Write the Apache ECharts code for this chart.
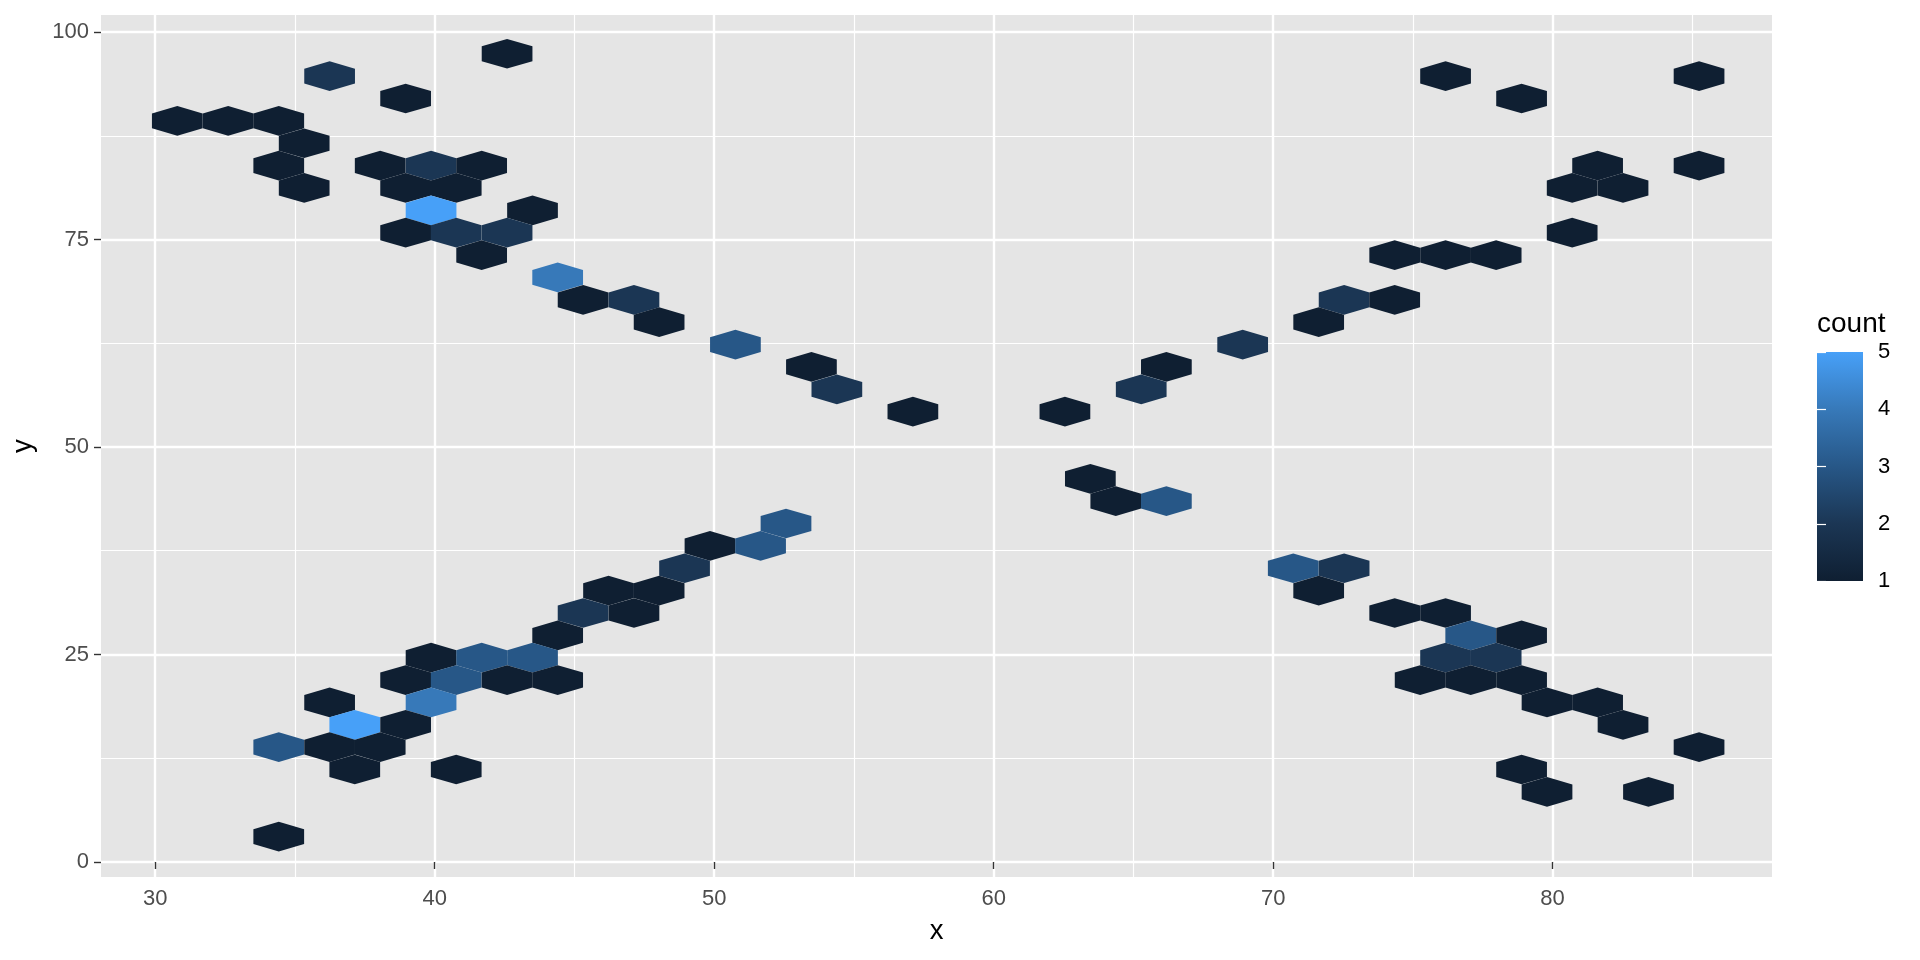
<!DOCTYPE html>
<html>
<head>
<meta charset="utf-8">
<script src="https://cdn.jsdelivr.net/npm/echarts@6/dist/echarts.min.js"></script>
<style>
html, body { margin: 0; padding: 0; background: #ffffff; }
#chart { width: 1920px; height: 960px; }
</style>
</head>
<body>
<div id="chart"></div>
<script>
// ---- Data (hexagon centres and their counts) ----
const hexX = [
  42.59, 36.24, 76.17, 85.24, 38.96, 78.89, 30.79, 32.61, 34.42, 35.33,
  34.42, 38.05, 39.87, 41.68, 81.61, 85.24, 35.33, 38.96, 40.77, 80.70,
  82.52, 39.87, 43.50, 38.96, 40.77, 42.59, 80.70, 41.68, 74.35, 76.17,
  77.98, 44.40, 45.31, 47.13, 72.54, 74.35, 48.03, 71.63, 50.76, 68.91,
  53.48, 66.18, 54.39, 65.28, 57.11, 62.55, 63.46, 64.37, 66.18, 52.57,
  49.85, 51.66, 48.94, 70.72, 72.54, 46.22, 48.03, 71.63, 45.31, 47.13,
  74.35, 76.17, 44.40, 77.07, 78.89, 39.87, 41.68, 43.50, 76.17, 77.98,
  38.96, 40.77, 42.59, 44.40, 75.26, 77.07, 78.89, 36.24, 39.87, 79.80,
  81.61, 37.14, 38.96, 82.52, 34.42, 36.24, 38.05, 85.24, 37.14, 40.77,
  78.89, 79.80, 83.43, 34.42
];
const hexY = [
  97.38, 94.68, 94.68, 94.68, 91.99, 91.99, 89.29, 89.29, 89.29, 86.60,
  83.90, 83.90, 83.90, 83.90, 83.90, 83.90, 81.21, 81.21, 81.21, 81.21,
  81.21, 78.51, 78.51, 75.82, 75.82, 75.82, 75.82, 73.12, 73.12, 73.12,
  73.12, 70.43, 67.73, 67.73, 67.73, 67.73, 65.04, 65.04, 62.34, 62.34,
  59.65, 59.65, 56.95, 56.95, 54.26, 54.26, 46.17, 43.48, 43.48, 40.78,
  38.09, 38.09, 35.39, 35.39, 35.39, 32.70, 32.70, 32.70, 30.00, 30.00,
  30.00, 30.00, 27.31, 27.31, 27.31, 24.61, 24.61, 24.61, 24.61, 24.61,
  21.92, 21.92, 21.92, 21.92, 21.92, 21.92, 21.92, 19.22, 19.22, 19.22,
  19.22, 16.53, 16.53, 16.53, 13.83, 13.83, 13.83, 13.83, 11.14, 11.14,
  11.14, 8.44, 8.44, 3.05
];
const hexCount = [
  1, 2, 1, 1, 1, 1, 1, 1, 1, 1,
  1, 1, 2, 1, 1, 1, 1, 1, 1, 1,
  1, 5, 1, 1, 2, 2, 1, 1, 1, 1,
  1, 4, 1, 2, 2, 1, 1, 1, 3, 2,
  1, 1, 2, 2, 1, 1, 1, 1, 3, 3,
  1, 3, 2, 3, 2, 1, 1, 1, 2, 1,
  1, 1, 1, 3, 1, 1, 3, 3, 2, 2,
  1, 3, 1, 1, 1, 1, 1, 1, 4, 1,
  1, 5, 1, 1, 3, 1, 1, 1, 1, 1,
  1, 1, 1, 1
];

// ---- Axis ticks and legend ----
const xMajorTicks = [30, 40, 50, 60, 70, 80];
const xMinorTicks = [35, 45, 55, 65, 75, 85];
const yMajorTicks = [0, 25, 50, 75, 100];
const yMinorTicks = [12.5, 37.5, 62.5, 87.5];
const countTicks = [1, 2, 3, 4, 5];
const countColors = ['#0F1F32', '#1B3654', '#275787', '#3779B9', '#47A0F8'];

// ---- Styling constants ----
const FONT = "'Liberation Sans', Arial, Helvetica, sans-serif";
const HEX_HALF_W = 0.9075;   // half of the bin width in x units
const HEX_QUARTER_H = 0.8947; // quarter of the hexagon height in y units
const HEX_SHAPE = [[1, 1], [1, -1], [0, -2], [-1, -1], [-1, 1], [0, 2]];

const hexData = hexX.map((x, i) => [x, hexY[i], hexCount[i]]);

const chart = echarts.init(document.getElementById('chart'), null, { renderer: 'canvas' });

const option = {
  backgroundColor: '#ffffff',
  animation: false,
  textStyle: { fontFamily: FONT },
  title: {
    text: 'count',
    left: 1817,
    top: 310,
    padding: 0,
    textStyle: { fontSize: 28, fontWeight: 'normal', color: '#000000', fontFamily: FONT }
  },
  grid: [
    { left: 101, top: 15, width: 1671, height: 862, show: true, backgroundColor: '#E5E5E5', borderWidth: 0 },
    { left: 1817, top: 352, width: 46, height: 229, show: false }
  ],
  visualMap: {
    type: 'continuous',
    show: false,
    seriesIndex: 0,
    dimension: 2,
    min: countTicks[0],
    max: countTicks[countTicks.length - 1],
    inRange: { color: countColors }
  },
  xAxis: [
    {
      type: 'value', gridIndex: 0, min: 28.06, max: 87.85,
      axisLine: { show: false },
      axisTick: { show: true, length: 7, lineStyle: { color: '#333333', width: 1.4 }, customValues: xMajorTicks },
      axisLabel: { customValues: xMajorTicks, color: '#4D4D4D', fontSize: 22, margin: 11, fontFamily: FONT },
      splitLine: { show: true, lineStyle: { color: '#ffffff', width: 2.4 } },
      name: 'x', nameLocation: 'middle', nameGap: 40,
      nameTextStyle: { fontSize: 27.5, color: '#000000', fontFamily: FONT }
    },
    {
      type: 'value', gridIndex: 0, min: 28.06, max: 87.85, position: 'bottom',
      axisLine: { show: false },
      axisTick: { show: false, customValues: xMinorTicks },
      axisLabel: { show: false, customValues: xMinorTicks },
      splitLine: { show: true, lineStyle: { color: '#ffffff', width: 1.2 } }
    },
    { type: 'value', gridIndex: 1, min: 0, max: 1, show: false }
  ],
  yAxis: [
    {
      type: 'value', gridIndex: 0, min: -1.81, max: 102.05,
      axisLine: { show: false },
      axisTick: { show: true, length: 7, lineStyle: { color: '#333333', width: 1.4 }, customValues: yMajorTicks },
      axisLabel: { customValues: yMajorTicks, color: '#4D4D4D', fontSize: 22, margin: 12, fontFamily: FONT },
      splitLine: { show: true, lineStyle: { color: '#ffffff', width: 2.4 } },
      name: 'y', nameLocation: 'middle', nameGap: 64,
      nameTextStyle: { fontSize: 27.5, color: '#000000', fontFamily: FONT }
    },
    {
      type: 'value', gridIndex: 0, min: -1.81, max: 102.05, position: 'left',
      axisLine: { show: false },
      axisTick: { show: false, customValues: yMinorTicks },
      axisLabel: { show: false, customValues: yMinorTicks },
      splitLine: { show: true, lineStyle: { color: '#ffffff', width: 1.2 } }
    },
    {
      type: 'value', gridIndex: 1, min: 1, max: 5, interval: 1, position: 'right', z: 10,
      axisLine: { show: false },
      axisTick: { show: true, inside: true, length: 9, lineStyle: { color: '#ffffff', width: 1.2 } },
      axisLabel: { color: '#000000', fontSize: 22, margin: 15, fontFamily: FONT },
      splitLine: { show: false }
    },
    {
      type: 'value', gridIndex: 1, min: 1, max: 5, interval: 1, position: 'left', z: 10,
      axisLine: { show: false },
      axisTick: { show: true, inside: true, length: 9, lineStyle: { color: '#ffffff', width: 1.2 } },
      axisLabel: { show: false },
      splitLine: { show: false }
    }
  ],
  series: [
    {
      type: 'custom',
      xAxisIndex: 0,
      yAxisIndex: 0,
      data: hexData,
      encode: { x: 0, y: 1 },
      renderItem: function (params, api) {
        const cx = api.value(0), cy = api.value(1);
        const pts = HEX_SHAPE.map(function (p) {
          return api.coord([cx + p[0] * HEX_HALF_W, cy + p[1] * HEX_QUARTER_H]);
        });
        return {
          type: 'polygon',
          shape: { points: pts },
          style: { fill: api.visual('color'), stroke: null }
        };
      }
    },
    {
      type: 'custom',
      xAxisIndex: 2,
      yAxisIndex: 2,
      data: [[0, countTicks[0], 1, countTicks[countTicks.length - 1]]],
      renderItem: function (params, api) {
        const p0 = api.coord([api.value(0), api.value(3)]);
        const p1 = api.coord([api.value(2), api.value(1)]);
        const stops = countColors.slice().reverse().map(function (c, i, arr) {
          return { offset: i / (arr.length - 1), color: c };
        });
        return {
          type: 'rect',
          shape: { x: p0[0], y: p0[1], width: p1[0] - p0[0], height: p1[1] - p0[1] },
          style: {
            fill: { type: 'linear', x: 0, y: 0, x2: 0, y2: 1, colorStops: stops },
            stroke: null
          }
        };
      }
    }
  ]
};

chart.setOption(option);
</script>
</body>
</html>
